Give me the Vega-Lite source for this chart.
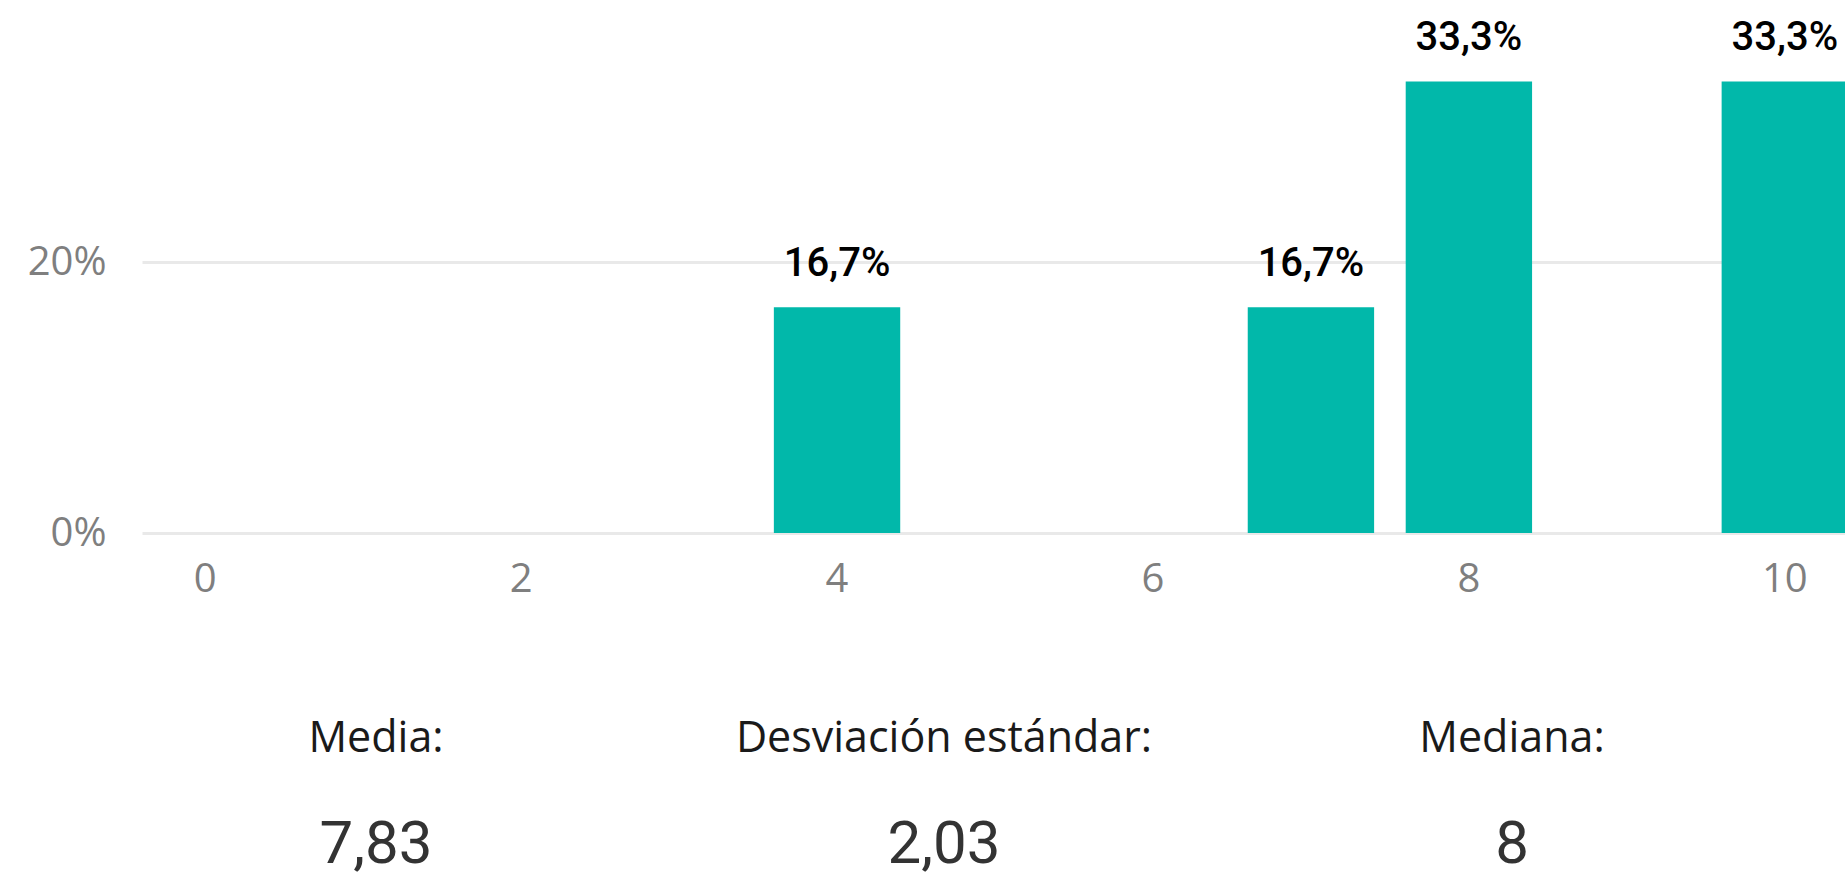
{
  "$schema": "https://vega.github.io/schema/vega-lite/v6.json",
  "padding": {"left": 27, "top": 0, "right": 0, "bottom": 0},
  "spacing": 0,
  "config": {
    "view": {"stroke": null},
    "locale": {"number": {"decimal": ",", "thousands": ".", "grouping": [3], "currency": ["", " €"]}}
  },
  "vconcat": [
    {
      "width": 1706,
      "height": 533,
      "data": {"values": [
        {"puntuacion": 0, "pct": 0},
        {"puntuacion": 1, "pct": 0},
        {"puntuacion": 2, "pct": 0},
        {"puntuacion": 3, "pct": 0},
        {"puntuacion": 4, "pct": 0.1667},
        {"puntuacion": 5, "pct": 0},
        {"puntuacion": 6, "pct": 0},
        {"puntuacion": 7, "pct": 0.1667},
        {"puntuacion": 8, "pct": 0.3333},
        {"puntuacion": 9, "pct": 0},
        {"puntuacion": 10, "pct": 0.3333}
      ]},
      "encoding": {
        "x": {
          "field": "puntuacion", "type": "ordinal",
          "scale": {"domain": [0,1,2,3,4,5,6,7,8,9,10], "paddingInner": 0.2, "paddingOuter": 0},
          "axis": {"values": [0,2,4,6,8,10], "labelAngle": 0, "domain": false, "ticks": false, "grid": false,
                   "labelFont": "Open Sans", "labelFontSize": 40, "labelColor": "#7f7f7f", "labelPadding": 26, "title": null}
        }
      },
      "layer": [
        {
          "mark": {"type": "bar", "color": "#01B8AA"},
          "encoding": {
            "y": {
              "field": "pct", "type": "quantitative",
              "scale": {"domain": [0, 0.3934], "nice": false},
              "axis": {"values": [0, 0.2], "format": ".0%", "domain": false, "ticks": false,
                       "labelFont": "Open Sans", "labelFontSize": 40, "labelColor": "#7f7f7f", "labelPadding": 36,
                       "gridColor": "#e9e9e9", "gridWidth": 3, "title": null}
            }
          }
        },
        {
          "transform": [{"filter": "datum.pct > 0"}],
          "mark": {"type": "text", "baseline": "alphabetic", "dy": -31, "font": "Roboto", "fontWeight": 500, "fontSize": 40, "color": "#000000"},
          "encoding": {
            "y": {"field": "pct", "type": "quantitative"},
            "text": {"field": "pct", "type": "quantitative", "format": ".1%"}
          }
        }
      ]
    },
    {
      "width": 1604,
      "height": 270,
      "data": {"values": [
        {"estadistico": "Media:", "valor": "7,83"},
        {"estadistico": "Desviación estándar:", "valor": "2,03"},
        {"estadistico": "Mediana:", "valor": "8"}
      ]},
      "encoding": {
        "x": {"field": "estadistico", "type": "nominal",
              "scale": {"type": "point", "padding": 0.412, "domain": ["Media:", "Desviación estándar:", "Mediana:"]},
              "axis": null}
      },
      "layer": [
        {
          "mark": {"type": "text", "font": "Open Sans", "fontSize": 43, "color": "#1a1a1a", "baseline": "alphabetic", "dy": 18},
          "encoding": {"text": {"field": "estadistico"}}
        },
        {
          "mark": {"type": "text", "font": "Roboto", "fontSize": 60, "color": "#333333", "baseline": "alphabetic", "dy": 129},
          "encoding": {"text": {"field": "valor"}}
        }
      ]
    }
  ]
}
